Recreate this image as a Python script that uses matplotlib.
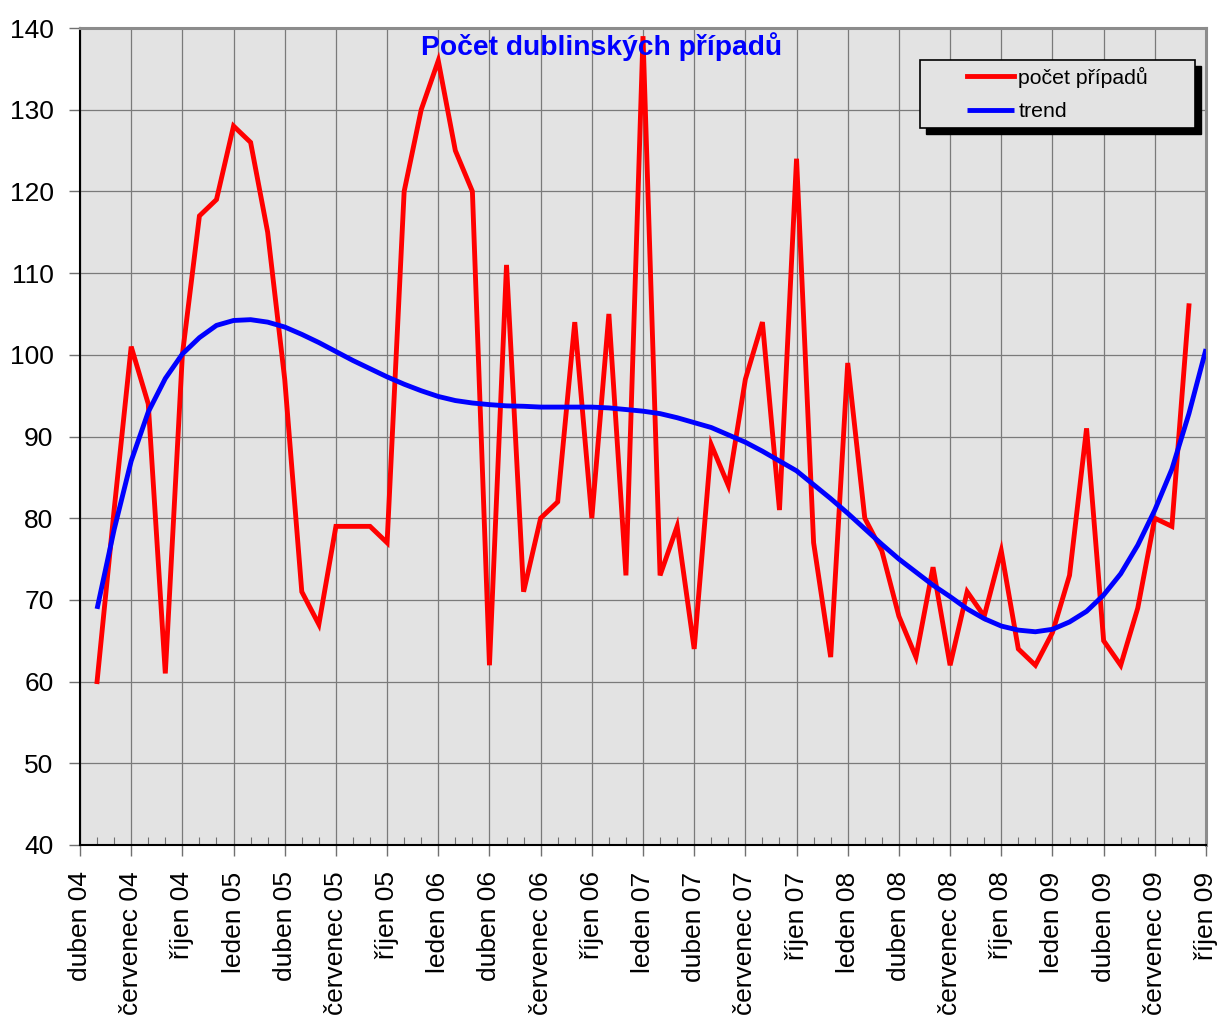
import numpy as np
import matplotlib
matplotlib.use('Agg')
import matplotlib.pyplot as plt
from matplotlib.patches import Rectangle

plt.rcParams['font.family'] = ['Liberation Sans', 'DejaVu Sans']

# months counted from duben 04 (index 0); data start in kveten 04
tick_labels = ['duben 04', 'červenec 04', 'říjen 04', 'leden 05', 'duben 05', 'červenec 05',
               'říjen 05', 'leden 06', 'duben 06', 'červenec 06', 'říjen 06', 'leden 07',
               'duben 07', 'červenec 07', 'říjen 07', 'leden 08', 'duben 08', 'červenec 08',
               'říjen 08', 'leden 09', 'duben 09', 'červenec 09', 'říjen 09']

cases = [60, 81, 101, 94, 61, 100, 117, 119, 128, 126, 115, 97, 71, 67, 79, 79,
         79, 77, 120, 130, 136, 125, 120, 62, 111, 71, 80, 82, 104, 80, 105, 73,
         139, 73, 79, 64, 89, 84, 97, 104, 81, 124, 77, 63, 99, 80, 76, 68,
         63, 74, 62, 71, 68, 76, 64, 62, 66, 73, 91, 65, 62, 69, 80, 79, 106]

trend = [68.9, 78.6, 87.0, 93.0, 97.1, 100.1, 102.1, 103.6, 104.2, 104.3, 104.0,
         103.4, 102.5, 101.5, 100.4, 99.3, 98.3, 97.3, 96.4, 95.6, 94.9, 94.4,
         94.1, 93.9, 93.75, 93.7, 93.6, 93.6, 93.6, 93.6, 93.5, 93.3, 93.1, 92.8,
         92.3, 91.7, 91.1, 90.2, 89.3, 88.2, 87.0, 85.8, 84.1, 82.4, 80.6, 78.7,
         76.8, 75.0, 73.4, 71.8, 70.4, 68.9, 67.7, 66.8, 66.3, 66.1, 66.4, 67.3,
         68.6, 70.6, 73.2, 76.7, 81.0, 86.0, 92.8, 100.7]

x_cases = np.arange(1, len(cases) + 1)
x_trend = np.arange(1, len(trend) + 1)

W, H = 1222, 1019
fig = plt.figure(figsize=(W / 100, H / 100), dpi=100)
ax = fig.add_axes([80 / W, 1 - 845 / H, 1126 / W, 817 / H])
ax.set_facecolor('#e3e3e3')

ax.plot(x_cases, cases, color='#ff0000', lw=3.5, solid_joinstyle='miter',
        label='počet případů', zorder=3)
ax.plot(x_trend, trend, color='#0000ff', lw=3.5, solid_joinstyle='round',
        solid_capstyle='butt', label='trend', zorder=4)

ax.set_xlim(0, 66)
ax.set_ylim(40, 140)
ax.set_yticks(np.arange(40, 141, 10))
ax.set_xticks(np.arange(0, 67, 3))
ax.set_xticklabels(tick_labels, rotation=90)
ax.set_xticks(np.arange(0, 67, 1), minor=True)

ax.grid(True, which='major', color='#7a7a7a', lw=0.9)
ax.set_axisbelow(True)
ax.tick_params(axis='both', which='major', direction='out', length=8, width=1,
               color='#707070', labelsize=19, pad=11)
ax.tick_params(axis='x', which='minor', direction='in', length=6, width=0.8, color='#707070')
ax.tick_params(axis='y', which='minor', left=False)

for s in ['left', 'bottom']:
    ax.spines[s].set_color('black')
    ax.spines[s].set_linewidth(1.5)
for s in ['top', 'right']:
    ax.spines[s].set_color('#8c8c8c')
    ax.spines[s].set_linewidth(2.2)

fig.text(602 / W, 1 - 47 / H, 'Počet dublinských případů', color='#0000ff',
         fontsize=20.3, fontweight='bold', ha='center', va='center')

# legend frame with shadow (pixel box 920..1195 x 60..128)
ax.add_patch(Rectangle((926 / W, 1 - 134 / H), 275 / W, 68 / H, transform=fig.transFigure,
                       facecolor='black', edgecolor='black', clip_on=False, zorder=5))
ax.add_patch(Rectangle((920 / W, 1 - 128 / H), 275 / W, 68 / H, transform=fig.transFigure,
                       facecolor='#e3e3e3', edgecolor='black', lw=1.2, clip_on=False, zorder=6))
leg = ax.legend(loc='center', bbox_to_anchor=(920 / W, 1 - 128 / H, 275 / W, 68 / H),
                bbox_transform=fig.transFigure, frameon=False, fontsize=15.3,
                handlelength=2.2, handletextpad=0.23, labelspacing=0.68, borderpad=0,
                borderaxespad=0)
leg.set_zorder(7)

fig.savefig('out.png', dpi=100)
